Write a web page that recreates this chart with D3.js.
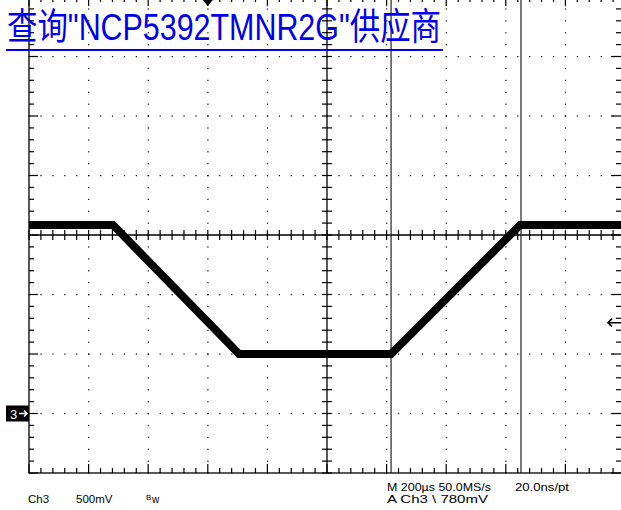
<!DOCTYPE html>
<html><head><meta charset="utf-8">
<script src="https://cdn.jsdelivr.net/npm/d3@7/dist/d3.min.js"></script>
<style>html,body{margin:0;padding:0;background:#fff;overflow:hidden}</style>
</head><body>
<script>
// ---- data ----
const timeUs = [0, 282, 705, 1215, 1648, 2000];        // µs from left edge of screen
const ch3mV  = [1584, 1584, 500, 500, 1584, 1584];     // mV relative to Ch3 ground
const timeDivs = d3.range(0, 2001, 200);               // 200 µs/div
const voltDivs = d3.range(-500, 3501, 500);            // 500 mV/div
const cursorTimes = [1215, 1651];
const triggerPosTime = 600;
const triggerLevelmV = 780;
const titleText = '查询"NCP5392TMNR2G"供应商';
const statusLeft = [["Ch3", 28], ["500mV", 76]];
const statusRight1 = "M 200µs 50.0MS/s";
const statusRight2 = "A  Ch3  \\  780mV";
const statusRate = "20.0ns/pt";

const W = 621, H = 510;
const svg = d3.select("body").append("svg").attr("width", W).attr("height", H);
const x = d3.scaleLinear().domain([0, 2000]).range([29, 625]);
const y = d3.scaleLinear().domain([-500, 3500]).range([473, -3]);

const g = svg.append("g");
// dotted grid
const minorT = d3.range(0, 2001, 40), minorV = d3.range(-500, 3501, 100);
timeDivs.slice(1, -1).forEach(t => {
  if (t === 1000) return;
  minorV.forEach(v => g.append("rect").attr("x", x(t) - 0.5).attr("y", y(v) - 0.5).attr("width", 1.2).attr("height", 1.2).attr("fill", "#000"));
});
voltDivs.slice(1, -1).forEach(v => {
  if (v === 1500) return;
  minorT.forEach(t => g.append("rect").attr("x", x(t) - 0.5).attr("y", y(v) - 0.5).attr("width", 1.2).attr("height", 1.2).attr("fill", "#000"));
});
// borders
g.append("rect").attr("x", x(0)).attr("y", y(3500)).attr("width", x(2000) - x(0)).attr("height", y(-500) - y(3500))
  .attr("fill", "none").attr("stroke", "#000").attr("stroke-width", 1.3);
// center axes
g.append("line").attr("x1", x(0)).attr("x2", x(2000)).attr("y1", y(1500)).attr("y2", y(1500)).attr("stroke", "#000").attr("stroke-width", 1.3);
g.append("line").attr("x1", x(1000)).attr("x2", x(1000)).attr("y1", y(3500)).attr("y2", y(-500)).attr("stroke", "#000").attr("stroke-width", 1.3);
// ticks
minorT.forEach((t, i) => {
  const major = i % 5 === 0;
  g.append("line").attr("x1", x(t)).attr("x2", x(t)).attr("y1", y(1500) - 5).attr("y2", y(1500) + 5).attr("stroke", "#000").attr("stroke-width", 1.2);
  g.append("line").attr("x1", x(t)).attr("x2", x(t)).attr("y1", y(-500)).attr("y2", y(-500) - (major ? 9 : 5)).attr("stroke", "#000").attr("stroke-width", 1.2);
  g.append("line").attr("x1", x(t)).attr("x2", x(t)).attr("y1", y(3500)).attr("y2", y(3500) + (major ? 9 : 5)).attr("stroke", "#000").attr("stroke-width", 1.2);
});
minorV.forEach((v, i) => {
  const major = i % 5 === 0;
  g.append("line").attr("y1", y(v)).attr("y2", y(v)).attr("x1", x(1000) - 5).attr("x2", x(1000) + 5).attr("stroke", "#000").attr("stroke-width", 1.2);
  g.append("line").attr("y1", y(v)).attr("y2", y(v)).attr("x1", x(0)).attr("x2", x(0) + (major ? 9 : 5)).attr("stroke", "#000").attr("stroke-width", 1.2);
  g.append("line").attr("y1", y(v)).attr("y2", y(v)).attr("x1", x(2000)).attr("x2", x(2000) - (major ? 14 : 9)).attr("stroke", "#000").attr("stroke-width", 1.2);
});
// cursors
cursorTimes.forEach(t => g.append("line").attr("x1", x(t)).attr("x2", x(t)).attr("y1", 0).attr("y2", y(-500)).attr("stroke", "#222").attr("stroke-width", 1.2));

// trace
svg.append("path").datum(timeUs.map((t, i) => [t, ch3mV[i]]))
  .attr("d", d3.line().x(d => x(d[0])).y(d => y(d[1])))
  .attr("fill", "none").attr("stroke", "#000").attr("stroke-width", 8);

// trigger position marker
const tx = x(triggerPosTime);
svg.append("path").attr("d", `M${tx - 5},0 L${tx + 5},0 L${tx},6 Z`).attr("fill", "#000");
// ground marker
const gy = y(0);
svg.append("rect").attr("x", 6).attr("y", gy - 8).attr("width", 23).attr("height", 16).attr("fill", "#000");
svg.append("text").attr("x", 10).attr("y", gy + 5).attr("fill", "#fff").attr("font-family", "Liberation Sans, Arial").attr("font-size", 13).text("3");
svg.append("path").attr("d", `M19,${gy} L27,${gy} M24,${gy - 3} L27,${gy} L24,${gy + 3}`).attr("stroke", "#fff").attr("stroke-width", 1.5).attr("fill", "none");
// trigger level arrow
const ly = y(triggerLevelmV) + 2;
svg.append("path").attr("d", `M608,${ly} L621,${ly} M612,${ly - 4} L608,${ly} L612,${ly + 4}`).attr("stroke", "#000").attr("stroke-width", 1.6).attr("fill", "none");

// status text
const st = svg.append("g").attr("font-family", "Liberation Sans, Arial, sans-serif").attr("font-size", 11.5).attr("fill", "#000");
statusLeft.forEach(([s, px]) => st.append("text").attr("x", px).attr("y", 503).text(s));
st.append("text").attr("x", 146).attr("y", 500).attr("font-size", 8).text("B");
st.append("text").attr("x", 152).attr("y", 503).attr("font-size", 10).text("w");
st.append("text").attr("x", 387).attr("y", 491).attr("textLength", 104).attr("lengthAdjust", "spacingAndGlyphs").text(statusRight1);
st.append("text").attr("x", 515).attr("y", 491).attr("textLength", 54).attr("lengthAdjust", "spacingAndGlyphs").text(statusRate);
st.append("text").attr("x", 387).attr("y", 503).attr("textLength", 101).attr("lengthAdjust", "spacingAndGlyphs").text(statusRight2);

// title
svg.append("text").attr("x", 7).attr("y", 40).attr("fill", "#0000ee")
  .attr("font-family", "Liberation Sans, 'Noto Sans CJK SC', sans-serif").attr("font-size", 37)
  .attr("textLength", 434).attr("lengthAdjust", "spacingAndGlyphs").text(titleText);
svg.append("rect").attr("x", 6).attr("y", 49).attr("width", 437).attr("height", 2).attr("fill", "#0000ee");
</script>
</body></html>
